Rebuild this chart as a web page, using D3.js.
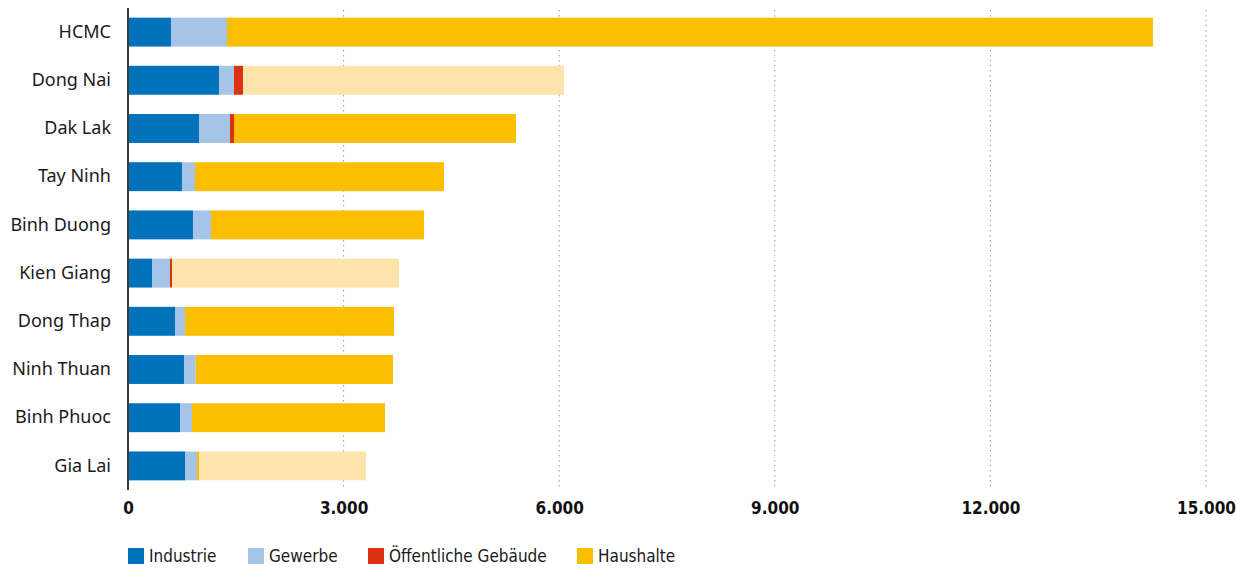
<!DOCTYPE html>
<html>
<head>
<meta charset="utf-8">
<script src="https://cdn.jsdelivr.net/npm/d3@7"></script>
<style>
  body { margin: 0; background: #fff; }
  svg { display: block; }
  .grid line { stroke: #9a9a9a; stroke-width: 1; stroke-dasharray: 1.5 3.5; }
</style>
</head>
<body>
<svg id="chart" width="1243" height="568"></svg>
<script>
// Regionen (von oben nach unten)
var provinces = ["HCMC", "Dong Nai", "Dak Lak", "Tay Ninh", "Binh Duong", "Kien Giang", "Dong Thap", "Ninh Thuan", "Binh Phuoc", "Gia Lai"];

// Werte je Sektor
var industrie   = [598, 1266, 988, 751, 904, 334, 654, 779, 724, 793];
var gewerbe     = [780, 209, 431, 181, 251, 250, 139, 163, 166, 167];
var oeffentlich = [0, 125, 56, 0, 0, 28, 0, 0, 0, 0];
var haushalte   = [12884, 0, 3924, 3465, 2964, 0, 2908, 2745, 2686, 28];
// Haushalte, hell dargestellt
var haushalteHell = [0, 4466, 0, 0, 0, 3159, 0, 0, 0, 2324];

var ticks = [0, 3000, 6000, 9000, 12000, 15000];

var keys = ["industrie", "gewerbe", "oeffentlich", "haushalte", "haushalteHell"];
var colors = {
  industrie: "#0072bc",
  gewerbe: "#a5c4e8",
  oeffentlich: "#dc3212",
  haushalte: "#fbbe00",
  haushalteHell: "#fee4ab"
};
var legend_items = [
  {key: "industrie", label: "Industrie"},
  {key: "gewerbe", label: "Gewerbe"},
  {key: "oeffentlich", label: "Öffentliche Gebäude"},
  {key: "haushalte", label: "Haushalte"}
];

var rows = provinces.map(function(p, i){
  return {name: p, industrie: industrie[i], gewerbe: gewerbe[i], oeffentlich: oeffentlich[i],
          haushalte: haushalte[i], haushalteHell: haushalteHell[i]};
});

var svg = d3.select("#chart");
var x = d3.scaleLinear().domain([0, 15000]).range([128, 1206]);
var y = d3.scaleBand().domain(provinces).range([8, 490]).paddingInner(0.4).paddingOuter(0.2);

var fmt = function(d){ return d3.format(",")(d).replace(/,/g, "."); };
var cond = "'DejaVu Sans Condensed', 'Noto Sans', sans-serif";

// Gitterlinien
svg.append("g")
    .attr("class", "grid")
    .selectAll("line")
    .data(ticks.slice(1))
    .enter()
    .append("line")
    .attr("x1", d => x(d))
    .attr("x2", d => x(d))
    .attr("y1", 10)
    .attr("y2", 490);

// Balken
var stacked = d3.stack().keys(keys)(rows);
svg.append("g")
    .selectAll("g")
    .data(stacked)
    .enter()
    .append("g")
    .attr("fill", d => colors[d.key])
    .selectAll("rect")
    .data(d => d)
    .enter()
    .append("rect")
    .attr("x", d => x(d[0]))
    .attr("y", d => y(d.data.name))
    .attr("width", d => x(d[1]) - x(d[0]))
    .attr("height", y.bandwidth());

// Achse unten (nur Beschriftung)
var xAxis = svg.append("g")
    .attr("transform", "translate(0,490)")
    .call(d3.axisBottom(x).tickValues(ticks).tickFormat(fmt).tickSize(0).tickPadding(12));
xAxis.select(".domain").remove();
xAxis.attr("font-family", cond)
    .attr("font-size", 17)
    .attr("font-weight", "bold");
xAxis.selectAll("text").attr("fill", "#111");

// Kategorie-Beschriftung
var yAxis = svg.append("g")
    .attr("transform", "translate(128,0)")
    .call(d3.axisLeft(y).tickSize(0).tickPadding(17));
yAxis.select(".domain").remove();
yAxis.attr("font-family", "'Noto Sans', sans-serif")
    .attr("font-size", 18);
yAxis.selectAll("text").attr("fill", "#1a1a1a");

// Nulllinie
svg.append("line")
    .attr("x1", x(0)).attr("x2", x(0))
    .attr("y1", 8).attr("y2", 490)
    .attr("stroke", "#3d3d3d")
    .attr("stroke-width", 2);

// Legende
var legend_x = [128, 248, 368, 577];
var legend = svg.append("g")
    .selectAll("g")
    .data(legend_items)
    .enter()
    .append("g")
    .attr("transform", (d, i) => "translate(" + legend_x[i] + ",548)");
legend.append("rect")
    .attr("width", 16)
    .attr("height", 16)
    .attr("fill", d => colors[d.key]);
legend.append("text")
    .attr("x", 21)
    .attr("y", 14)
    .attr("font-family", cond)
    .attr("font-size", 17)
    .attr("fill", "#1a1a1a")
    .text(d => d.label);
</script>
</body>
</html>
